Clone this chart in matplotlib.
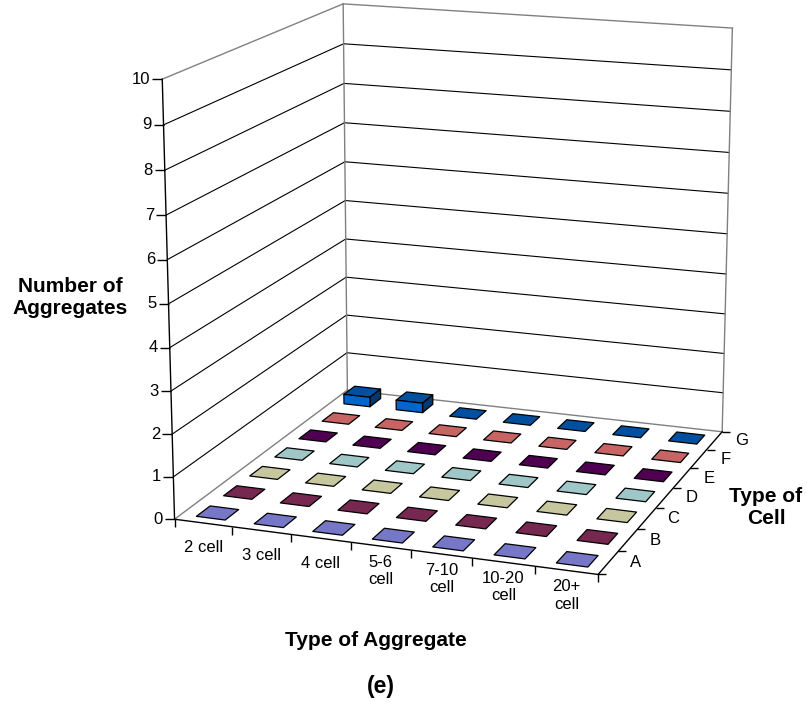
import numpy as np
import matplotlib
matplotlib.use("Agg")
import matplotlib.pyplot as plt
from matplotlib.colors import to_rgb
from matplotlib.markers import TICKLEFT, TICKRIGHT, TICKDOWN
from matplotlib.transforms import offset_copy
from mpl_toolkits.mplot3d.art3d import Poly3DCollection

plt.rcParams["font.family"] = ["Liberation Sans", "DejaVu Sans"]

# ---- data -------------------------------------------------------------
aggregate_types = ["2 cell", "3 cell", "4 cell", "5-6\ncell", "7-10\ncell",
                   "10-20\ncell", "20+\ncell"]
cell_types = ["A", "B", "C", "D", "E", "F", "G"]
counts_A = [0, 0, 0, 0, 0, 0, 0]
counts_B = [0, 0, 0, 0, 0, 0, 0]
counts_C = [0, 0, 0, 0, 0, 0, 0]
counts_D = [0, 0, 0, 0, 0, 0, 0]
counts_E = [0, 0, 0, 0, 0, 0, 0]
counts_F = [0, 0, 0, 0, 0, 0, 0]
counts_G = [0.25, 0.25, 0, 0, 0, 0, 0]
z_ticks = list(range(0, 11))

series_values = [counts_A, counts_B, counts_C, counts_D, counts_E, counts_F, counts_G]
series_colors = ["#9999FF", "#993366", "#FFFFCC", "#CCFFFF", "#660066", "#FF8080", "#0066CC"]

# ---- figure / 3D axes ---------------------------------------------------
W, H = 807, 708
fig = plt.figure(figsize=(W / 100, H / 100), dpi=100)
S = 800
cx, cy = 450, 278
ax = fig.add_axes([(cx - S / 2) / W, 1 - (cy + S / 2) / H, S / W, S / H], projection="3d")
ax.set_proj_type("persp", focal_length=0.65)
ax.view_init(elev=15, azim=-70)
ax.set_box_aspect((1.0, 1.03, 1.01), zoom=0.919)
ax.set_axis_off()

nx, ny = len(aggregate_types), len(cell_types)
zmax = z_ticks[-1]

# walls: gridlines and grey borders
grid = dict(color="black", lw=0.8)
edge = dict(color="#808080", lw=1.0)
for z in z_ticks[1:-1]:
    ax.plot([0, 0], [0, ny], [z, z], **grid)
    ax.plot([0, nx], [ny, ny], [z, z], **grid)
ax.plot([0, 0], [0, ny], [zmax, zmax], **edge)
ax.plot([0, nx], [ny, ny], [zmax, zmax], **edge)
ax.plot([0, 0], [ny, ny], [0, zmax], **edge)
ax.plot([nx, nx], [ny, ny], [0, zmax], **edge)
ax.plot([0, 0], [0, ny], [0, 0], **edge)
ax.plot([0, nx], [ny, ny], [0, 0], **edge)

# axis lines
axis = dict(color="black", lw=1.0)
ax.plot([0, 0], [0, 0], [0, zmax], **axis)
ax.plot([0, nx], [0, 0], [0, 0], **axis)
ax.plot([nx, nx], [0, ny], [0, 0], **axis)

# tick marks
tick = dict(ls="none", color="black", mew=1.0)
ax.plot(np.zeros(len(z_ticks)), np.zeros(len(z_ticks)), z_ticks, marker=TICKLEFT, ms=7, **tick)
ax.plot(np.arange(nx + 1), np.zeros(nx + 1), np.zeros(nx + 1), marker=TICKDOWN, ms=6, **tick)
ax.plot(np.full(ny + 1, nx), np.arange(ny + 1), np.zeros(ny + 1), marker=TICKRIGHT, ms=6, **tick)

# bars: top, front and right faces, shaded from the series colour
bar_w = 0.5
for j, (vals, base) in enumerate(zip(series_values, series_colors)):
    rgb = np.array(to_rgb(base))
    for i, v in enumerate(vals):
        x0 = i + (1 - bar_w) / 2
        x1 = x0 + bar_w
        y0 = j + (1 - bar_w) / 2
        y1 = y0 + bar_w
        faces = [[(x0, y0, v), (x1, y0, v), (x1, y1, v), (x0, y1, v)]]
        colors = [rgb * 0.78]
        if v > 0:
            faces.append([(x0, y0, 0), (x1, y0, 0), (x1, y0, v), (x0, y0, v)])
            faces.append([(x1, y0, 0), (x1, y1, 0), (x1, y1, v), (x1, y0, v)])
            colors += [rgb * 1.0, rgb * 0.55]
        pc = Poly3DCollection(faces, facecolors=colors, edgecolors="black", linewidths=0.9)
        ax.add_collection3d(pc, autolim=False)

ax.set_xlim(0, nx)
ax.set_ylim(0, ny)
ax.set_zlim(0, zmax)

# tick labels: project the 3D anchor once, then place ordinary 2D text
fig.canvas.draw()
M = ax.get_proj()


def project(x, y, z):
    p = M @ np.array([x, y, z, 1.0])
    return p[0] / p[3], p[1] / p[3]


def shifted(dx, dy):
    return offset_copy(ax.transData, fig=fig, x=dx, y=dy, units="dots")


tick_font = 12
for z in z_ticks:
    px, py = project(0, 0, z)
    ax.text2D(px, py, str(z), transform=shifted(-12, 0), ha="right", va="center", fontsize=tick_font)
for i, lab in enumerate(aggregate_types):
    px, py = project(i + 0.5, 0, 0)
    ax.text2D(px, py, lab, transform=shifted(0, -25), ha="center", va="center",
              multialignment="center", fontsize=tick_font)
for j, lab in enumerate(cell_types):
    px, py = project(nx, j + 0.5, 0)
    ax.text2D(px, py, lab, transform=shifted(27, 0), ha="center", va="center", fontsize=tick_font)

# axis titles
bold = dict(fontsize=15, fontweight="bold", ha="center", va="center", multialignment="center")
fig.text(70 / W, 1 - 297 / H, "Number of\nAggregates", **bold)
fig.text(376 / W, 1 - 640 / H, "Type of Aggregate", **bold)
fig.text(766 / W, 1 - 507 / H, "Type of\nCell", **bold)
fig.text(381 / W, 1 - 687 / H, "(e)", fontsize=16.5, fontweight="bold", ha="center", va="center")

fig.savefig("out.png", dpi=100)
